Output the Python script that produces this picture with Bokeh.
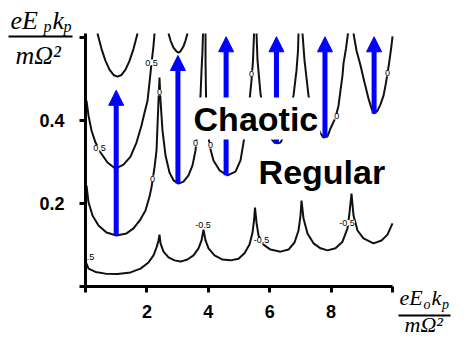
from bokeh.plotting import figure
from bokeh.models import (ColumnDataSource, Arrow, NormalHead, Label, FixedTicker,
                          LinearAxis, BoxAnnotation)
from bokeh.core.properties import value
from bokeh.embed import file_html
from bokeh.resources import INLINE

# ---- contour level -0.5 (cusp chain near the bottom) ----
lvl_m05_x = [0.016, 0.098, 0.326, 0.651, 1.042, 1.466, 1.792, 2.052, 2.215, 2.313, 2.378, 2.410,
             2.443, 2.541, 2.704, 2.899, 3.094, 3.322, 3.518, 3.681, 3.779, 3.844,
             3.909, 4.007, 4.202, 4.463, 4.723, 4.984, 5.179, 5.342, 5.440, 5.489, 5.521,
             5.570, 5.635, 5.798, 6.026, 6.352, 6.612, 6.808, 6.938, 7.003, 7.036,
             7.101, 7.231, 7.427, 7.655, 7.883, 8.143, 8.371, 8.534, 8.599, 8.664,
             8.730, 8.860, 9.055, 9.381, 9.642, 9.837, 10.0]
lvl_m05_y = [0.058, 0.043, 0.035, 0.031, 0.030, 0.034, 0.043, 0.058, 0.075, 0.094, 0.111, 0.125,
             0.104, 0.084, 0.070, 0.063, 0.060, 0.065, 0.075, 0.092, 0.111, 0.137,
             0.111, 0.092, 0.075, 0.065, 0.063, 0.067, 0.080, 0.101, 0.130, 0.159, 0.190,
             0.154, 0.123, 0.101, 0.089, 0.084, 0.089, 0.106, 0.135, 0.171, 0.207,
             0.164, 0.128, 0.104, 0.092, 0.087, 0.092, 0.108, 0.140, 0.178, 0.224,
             0.171, 0.135, 0.116, 0.104, 0.111, 0.125, 0.152]

# ---- contour level 0 (valleys) ----
lvl_0_a_x = [0.033, 0.098, 0.228, 0.423, 0.684, 1.010, 1.336, 1.564, 1.792, 1.954, 2.085, 2.150,
             2.248, 2.313, 2.345, 2.378, 2.410,
             2.443, 2.508, 2.606, 2.736, 2.866, 3.029, 3.192, 3.355, 3.485, 3.583, 3.648,
             3.713, 3.746, 3.779, 3.811, 3.827]
lvl_0_a_y = [0.243, 0.203, 0.171, 0.147, 0.130, 0.123, 0.128, 0.140, 0.162, 0.183, 0.217, 0.239,
             0.287, 0.328, 0.388, 0.448, 0.504,
             0.448, 0.376, 0.316, 0.275, 0.256, 0.248, 0.253, 0.268, 0.292, 0.328, 0.376,
             0.424, 0.460, 0.521, 0.569, 0.610]
lvl_0_b_x = [3.909, 3.909, 3.925, 3.974, 4.039, 4.169, 4.365, 4.625, 4.886, 5.049, 5.147, 5.244,
             5.342, 5.407, 5.456, 5.489]
lvl_0_b_y = [0.610, 0.545, 0.460, 0.388, 0.340, 0.304, 0.280, 0.268, 0.277, 0.304, 0.347, 0.395,
             0.448, 0.497, 0.545, 0.610]
lvl_0_c_x = [5.570, 5.603, 5.700, 5.798, 5.896, 6.026, 6.156, 6.254, 6.352, 6.450, 6.580, 6.678,
             6.775, 6.873, 6.922, 6.938]
lvl_0_c_y = [0.610, 0.545, 0.465, 0.424, 0.388, 0.359, 0.347, 0.345, 0.347, 0.362, 0.400, 0.436,
             0.460, 0.521, 0.569, 0.610]
lvl_0_d_x = [7.068, 7.134, 7.264, 7.394, 7.524, 7.655, 7.752, 7.883, 7.980, 8.143, 8.241, 8.306,
             8.371, 8.404, 8.485, 8.550]
lvl_0_d_y = [0.610, 0.545, 0.460, 0.419, 0.391, 0.369, 0.359, 0.362, 0.381, 0.407, 0.436, 0.473,
             0.509, 0.538, 0.574, 0.610]
lvl_0_e_x = [8.730, 8.827, 8.958, 9.088, 9.218, 9.316, 9.397, 9.511, 9.609, 9.707, 9.772, 9.837,
             9.902, 9.967, 10.0]
lvl_0_e_y = [0.610, 0.569, 0.533, 0.492, 0.453, 0.429, 0.417, 0.424, 0.439, 0.460, 0.485, 0.514,
             0.545, 0.581, 0.603]

# ---- contour level 0.5 ----
lvl_05_a_x = [0.033, 0.098, 0.195, 0.326, 0.489, 0.717, 0.977, 1.238, 1.466, 1.661, 1.824, 1.922,
              2.020, 2.085, 2.150, 2.215, 2.248]
lvl_05_a_y = [0.448, 0.412, 0.376, 0.347, 0.323, 0.299, 0.284, 0.294, 0.313, 0.347, 0.388, 0.419,
              0.448, 0.492, 0.538, 0.581, 0.610]
lvl_05_b_x = [0.391, 0.521, 0.651, 0.782, 0.912, 1.042, 1.173, 1.303, 1.433, 1.564, 1.694]
lvl_05_b_y = [0.610, 0.573, 0.544, 0.523, 0.510, 0.506, 0.510, 0.523, 0.544, 0.573, 0.610]
lvl_05_c_x = [2.704, 2.769, 2.866, 2.964, 3.029, 3.094, 3.192, 3.257, 3.322]
lvl_05_c_y = [0.610, 0.593, 0.576, 0.567, 0.564, 0.567, 0.579, 0.593, 0.610]

# ---- inline contour labels ----
clab_x = [0.033, 0.456, 2.15, 2.41, 2.18, 3.58, 4.07, 5.41, 8.18, 9.84, 3.83, 5.73, 8.52]
clab_y = [0.072, 0.333, 0.540, 0.468, 0.260, 0.345, 0.340, 0.513, 0.410, 0.514, 0.149, 0.111, 0.153]
clab_t = ["-0.5", "0.5", "0.5", "0", "0", "0", "0", "0", "0", "0", "-0.5", "-0.5", "-0.5"]

# ---- blue arrows (regular -> chaotic transitions) ----
arrow_x = [1.0, 3.01, 4.58, 6.22, 7.80, 9.40]
arrow_y0 = [0.123, 0.248, 0.268, 0.345, 0.359, 0.417]
arrow_y1 = [0.473, 0.557, 0.602, 0.602, 0.602, 0.602]

x_ticks = [0, 2, 4, 6, 8, 10]
y_ticks = [0, 0.2, 0.4, 0.6]

p = figure(width=452, height=338, x_range=(-2.769, 11.954), y_range=(-0.1254, 0.6895),
           output_backend="svg", toolbar_location=None,
           x_axis_location=None, y_axis_location=None,
           min_border_left=0, min_border_right=0, min_border_top=0, min_border_bottom=0)
p.xgrid.visible = False
p.ygrid.visible = False
p.outline_line_color = None
p.background_fill_color = "white"
p.border_fill_color = "white"

xaxis = LinearAxis(fixed_location=0, bounds=(0, 10), ticker=FixedTicker(ticks=x_ticks))
yaxis = LinearAxis(fixed_location=0, bounds=(0, 0.61), ticker=FixedTicker(ticks=y_ticks))
for ax in (xaxis, yaxis):
    ax.axis_line_width = 3
    ax.axis_line_color = "black"
    ax.major_tick_line_width = 3
    ax.major_tick_line_color = "black"
    ax.major_tick_out = 6
    ax.major_tick_in = 0
    ax.minor_tick_line_color = None
    ax.major_label_text_font = "Liberation Sans"
    ax.major_label_text_font_style = "bold"
    ax.major_label_text_font_size = "18px"
    ax.major_label_text_color = "black"
xaxis.major_label_overrides = {0: "", 10: ""}
yaxis.major_label_overrides = {0: "", 0.6: ""}
xaxis.major_label_standoff = 13
yaxis.major_label_standoff = 15
p.add_layout(xaxis, "below")
p.add_layout(yaxis, "left")

line_kw = dict(line_color="#111111", line_width=2)
for xs, ys in [(lvl_m05_x, lvl_m05_y), (lvl_0_a_x, lvl_0_a_y), (lvl_0_b_x, lvl_0_b_y),
               (lvl_0_c_x, lvl_0_c_y), (lvl_0_d_x, lvl_0_d_y), (lvl_0_e_x, lvl_0_e_y),
               (lvl_05_a_x, lvl_05_a_y), (lvl_05_b_x, lvl_05_b_y), (lvl_05_c_x, lvl_05_c_y)]:
    p.line(xs, ys, **line_kw)

lab_src = ColumnDataSource(dict(x=clab_x, y=clab_y, t=clab_t))
p.text(x="x", y="y", text="t", source=lab_src, text_font=value("Liberation Sans"),
       text_font_size="9px", text_align="center", text_baseline="middle", text_color="black",
       background_fill_color="white", padding=0)
# the left part of the first label is hidden behind the y axis, as in the source figure
p.add_layout(BoxAnnotation(left=-0.5, right=0, bottom=0.04, top=0.1, fill_color="white",
                           fill_alpha=1, line_color=None, level="glyph"))

arr_src = ColumnDataSource(dict(x=arrow_x, y0=arrow_y0, y1=arrow_y1))
p.add_layout(Arrow(source=arr_src, x_start="x", y_start="y0", x_end="x", y_end="y1",
                   line_color="#0000ff", line_width=5,
                   end=NormalHead(size=15, fill_color="#0000ff", line_color="#0000ff", line_width=1)))

big = dict(text_font="Liberation Sans", text_font_style="bold", text_font_size="34px",
           text_color="black", background_fill_color="white", padding=2,
           text_align="center", text_baseline="middle")
p.add_layout(Label(x=5.55, y=0.405, text="Chaotic", **big))
p.add_layout(Label(x=7.70, y=0.277, text="Regular", **big))

ser = dict(text_font="Liberation Serif", text_font_style="italic", text_color="black",
           text_baseline="middle", text_align="left")
# y-axis label (fraction) top-left
p.add_layout(Label(x=-2.443, y=0.641, text="eE", text_font_size="26px", **ser))
p.add_layout(Label(x=-1.368, y=0.626, text="p", text_font_size="16px", **ser))
p.add_layout(Label(x=-1.075, y=0.641, text="k", text_font_size="26px", **ser))
p.add_layout(Label(x=-0.717, y=0.626, text="p", text_font_size="16px", **ser))
p.add_layout(Arrow(x_start=-2.508, y_start=0.603, x_end=-0.423, y_end=0.603, start=None, end=None,
                   line_color="black", line_width=2))
p.add_layout(Label(x=-2.280, y=0.557, text="mΩ²", text_font_size="26px", **ser))
# x-axis label (fraction) bottom-right
p.add_layout(Label(x=10.228, y=-0.0277, text="eE", text_font_size="22px", **ser))
p.add_layout(Label(x=11.010, y=-0.0439, text="o", text_font_size="14px", **ser))
p.add_layout(Label(x=11.270, y=-0.0277, text="k", text_font_size="22px", **ser))
p.add_layout(Label(x=11.612, y=-0.0439, text="p", text_font_size="14px", **ser))
p.add_layout(Arrow(x_start=10.195, y_start=-0.0699, x_end=11.889, y_end=-0.0699, start=None, end=None,
                   line_color="black", line_width=2))
p.add_layout(Label(x=10.391, y=-0.0928, text="mΩ²", text_font_size="22px", **ser))

open("out.html", "w").write(file_html(p, INLINE))
